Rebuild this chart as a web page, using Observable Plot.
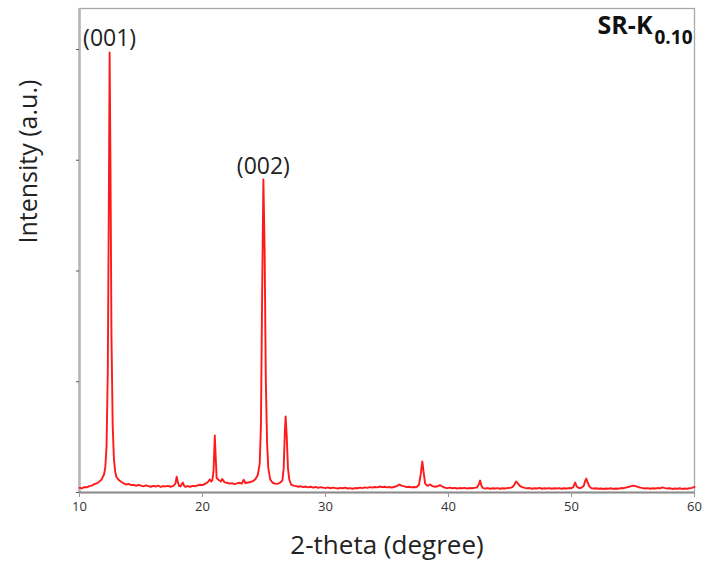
<!DOCTYPE html>
<html>
<head>
<meta charset="utf-8">
<script src="https://cdn.jsdelivr.net/npm/d3@7"></script>
<script src="https://cdn.jsdelivr.net/npm/@observablehq/plot@0.6"></script>
<style>
  html, body { margin: 0; padding: 0; background: #fff; }
  svg { display: block; }
</style>
</head>
<body>
<div id="chart"></div>
<script>
// XRD pattern of SR-K0.10 — 2θ (degree) and intensity (arbitrary units)
const twoTheta = [
  10.0,10.2,10.4,10.6,10.8,11.0,11.2,11.4,11.6,11.8,12.0,
  12.1,12.2,12.3,12.38,12.45,12.52,12.6,12.7,12.8,12.9,13.0,
  13.2,13.4,13.6,13.8,14.0,14.2,14.4,14.6,14.8,15.0,15.2,15.4,15.6,15.8,
  16.0,16.2,16.4,16.6,16.8,17.0,17.2,17.4,17.6,17.8,17.9,18.0,18.1,18.2,
  18.4,18.5,18.6,18.8,19.0,19.2,19.4,19.6,19.8,20.0,20.2,20.4,20.6,20.7,
  20.8,20.9,21.0,21.08,21.15,21.3,21.5,21.6,21.8,22.0,22.2,22.4,22.6,22.8,
  23.0,23.2,23.35,23.5,23.7,23.9,24.1,24.3,24.5,24.65,24.75,24.85,24.95,
  25.05,25.15,25.25,25.35,25.5,25.7,25.9,26.1,26.3,26.5,26.6,26.7,26.76,
  26.85,26.95,27.05,27.2,27.4,27.6,27.8,28.0,28.2,28.4,28.6,28.8,29.0,
  29.2,29.4,29.6,29.8,30.0,30.2,30.4,30.6,30.8,31.0,31.2,31.4,31.6,31.8,
  32.0,32.2,32.4,32.6,32.8,33.0,33.2,33.4,33.6,33.8,34.0,34.2,34.4,34.6,
  34.8,35.0,35.2,35.4,35.6,35.8,36.0,36.2,36.4,36.6,36.8,37.0,37.2,37.4,
  37.6,37.75,37.87,37.97,38.1,38.3,38.5,38.7,38.9,39.1,39.3,39.5,39.7,39.9,
  40.1,40.3,40.5,40.7,40.9,41.1,41.3,41.5,41.7,41.9,42.1,42.3,42.45,42.57,
  42.68,42.8,43.0,43.2,43.4,43.6,43.8,44.0,44.2,44.4,44.6,44.8,45.0,45.2,
  45.35,45.5,45.65,45.8,46.0,46.2,46.4,46.6,46.8,47.0,47.2,47.4,47.6,47.8,
  48.0,48.2,48.4,48.6,48.8,49.0,49.2,49.4,49.6,49.8,50.0,50.15,50.3,50.42,
  50.6,50.8,51.0,51.1,51.2,51.3,51.45,51.6,51.8,52.0,52.2,52.4,52.6,52.8,
  53.0,53.2,53.4,53.6,53.8,54.0,54.2,54.4,54.6,54.8,55.0,55.2,55.4,55.6,
  55.8,56.0,56.2,56.4,56.6,56.8,57.0,57.2,57.4,57.6,57.8,58.0,58.2,58.4,
  58.6,58.8,59.0,59.2,59.4,59.6,59.8,60.0
];
const intensity = [
  42,38,50,46,58,62,75,82,98,118,165,
  230,420,1100,2500,3973,2900,1400,600,300,190,140,
  112,95,82,72,78,66,70,60,68,62,55,64,58,52,
  60,54,62,50,58,55,60,52,58,80,142,95,60,55,
  90,62,50,58,52,60,56,64,70,66,78,90,118,100,
  110,200,515,300,130,115,100,122,92,88,80,84,76,82,
  88,80,115,84,90,95,102,120,160,260,600,1800,2826,
  2200,1000,450,220,120,88,80,78,88,110,220,560,686,
  500,220,120,72,62,58,52,56,48,54,46,52,44,
  50,42,48,44,40,46,38,44,40,36,42,38,44,36,
  40,34,40,38,44,40,46,42,48,44,50,46,54,48,
  52,46,50,44,52,58,72,62,56,48,52,46,50,48,
  70,170,280,190,80,60,72,58,52,56,66,54,44,40,
  44,38,42,36,40,38,42,36,40,38,42,44,70,108,
  60,40,36,40,34,38,36,40,34,38,36,40,42,48,
  70,99,80,60,48,42,38,40,34,38,36,42,34,38,
  36,40,34,38,36,40,34,38,36,40,38,50,90,55,
  40,42,60,100,126,95,55,40,36,38,34,36,32,36,
  34,38,32,36,34,40,38,44,50,56,62,58,50,44,
  40,36,40,34,38,36,40,38,46,40,36,38,32,36,
  34,38,32,36,34,38,42,50
];
const xTicks = [10, 20, 30, 40, 50, 60];
const yTicks = [0, 1000, 2000, 3000, 4000];
const peakLabels = ["(001)", "(002)"];
const peakPositions = [12.45, 24.95];
const peakHeights = [3973, 2826];
const sampleName = "SR-K";
const sampleSub = "0.10";
const xLabel = "2-theta (degree)";
const yLabel = "Intensity (a.u.)";

const pattern = twoTheta.map((t, i) => ({ t, v: intensity[i] }));
const peaks = peakLabels.map((label, i) => ({ label, t: peakPositions[i], v: peakHeights[i] }));

const font = "'Open Sans', 'DejaVu Sans', sans-serif";

const chart = Plot.plot({
  width: 702,
  height: 565,
  marginLeft: 79,
  marginRight: 8,
  marginTop: 8,
  marginBottom: 73,
  style: { fontFamily: font, background: "#fff", overflow: "visible" },
  x: { domain: [10, 60] },
  y: { domain: [0, 4370] },
  marks: [
    Plot.frame({ stroke: "#a8a8a8", strokeWidth: 1.3 }),
    Plot.ruleX([10], { stroke: "#b4b4b4", strokeWidth: 2.5 }),
    Plot.ruleY([0], { stroke: "#8c8c8c", strokeWidth: 2 }),
    Plot.axisX({ ticks: xTicks, tickSize: 5, tickPadding: 4, fontSize: 13, stroke: "#999", color: "#333", label: null, tickFormat: d => String(d) }),
    Plot.axisY({ ticks: yTicks, tickSize: 3, stroke: "#555", tickFormat: () => "", label: null }),
    Plot.line(pattern, { x: "t", y: "v", stroke: "#ff1a1a", strokeWidth: 1.9, strokeLinejoin: "round" }),
    Plot.text(peaks, { x: "t", y: "v", text: "label", lineAnchor: "bottom", dy: -6, fontSize: 23, fill: "#222" }),
    Plot.text([sampleName], { frameAnchor: "top-right", dx: -42, dy: 25, lineAnchor: "bottom", textAnchor: "end", fontSize: 25, fontWeight: "bold", fill: "#111" }),
    Plot.text([sampleSub], { frameAnchor: "top-right", dx: -2, dy: 35, lineAnchor: "bottom", textAnchor: "end", fontSize: 19, fontWeight: "bold", fill: "#111" }),
    Plot.text([xLabel], { frameAnchor: "bottom", dy: 53, lineAnchor: "middle", fontSize: 26, fill: "#222" }),
    Plot.text([yLabel], { frameAnchor: "left", dx: -51, dy: -7, rotate: -90, lineAnchor: "middle", fontSize: 25, fill: "#222" })
  ]
});

document.getElementById("chart").appendChild(chart);
</script>
</body>
</html>
